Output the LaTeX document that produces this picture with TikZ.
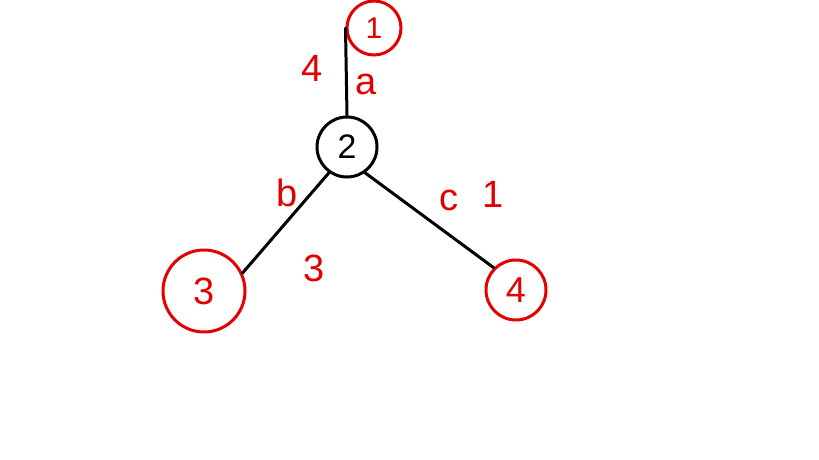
\documentclass[tikz,border=0pt]{standalone}
\usepackage{fontspec}
\setmainfont{Liberation Sans}
\begin{document}
\begin{tikzpicture}[x=1pt,y=-1pt,
  rednode/.style={circle,draw=red!90!black,line width=3pt,inner sep=0pt,text=red!90!black},
  blacknode/.style={circle,draw=black,line width=3pt,inner sep=0pt},
  edge/.style={draw=black,line width=3pt,line cap=round},
  lbl/.style={text=red!90!black,font=\fontsize{38}{40}\selectfont}]
\useasboundingbox (0,0) rectangle (819,460);
\fill[white] (0,0) rectangle (819,460);
\node[rednode,minimum size=54pt,font=\fontsize{30}{32}\selectfont] (n1) at (374,28) {1};
\node[blacknode,minimum size=60pt,font=\fontsize{34}{36}\selectfont] (n2) at (347,147) {2};
\node[rednode,minimum size=82pt,font=\fontsize{38}{40}\selectfont] (n3) at (204,291) {3};
\node[rednode,minimum size=60pt,font=\fontsize{36}{38}\selectfont] (n4) at (516,290) {4};
\draw[edge] (n1.west) -- (n2.north);
\draw[edge] (n2.235) -- (n3.25);
\draw[edge] (n2.305) -- (n4.135);
\node[lbl] (w1) at (312,68) {4};
\node[lbl] (ea) at (366,84) {a};
\node[lbl] (eb) at (287,193) {b};
\node[lbl] (w2) at (314,268) {3};
\node[lbl] (ec) at (449,200) {c};
\node[lbl] (w3) at (493,194) {1};
\end{tikzpicture}
\end{document}
